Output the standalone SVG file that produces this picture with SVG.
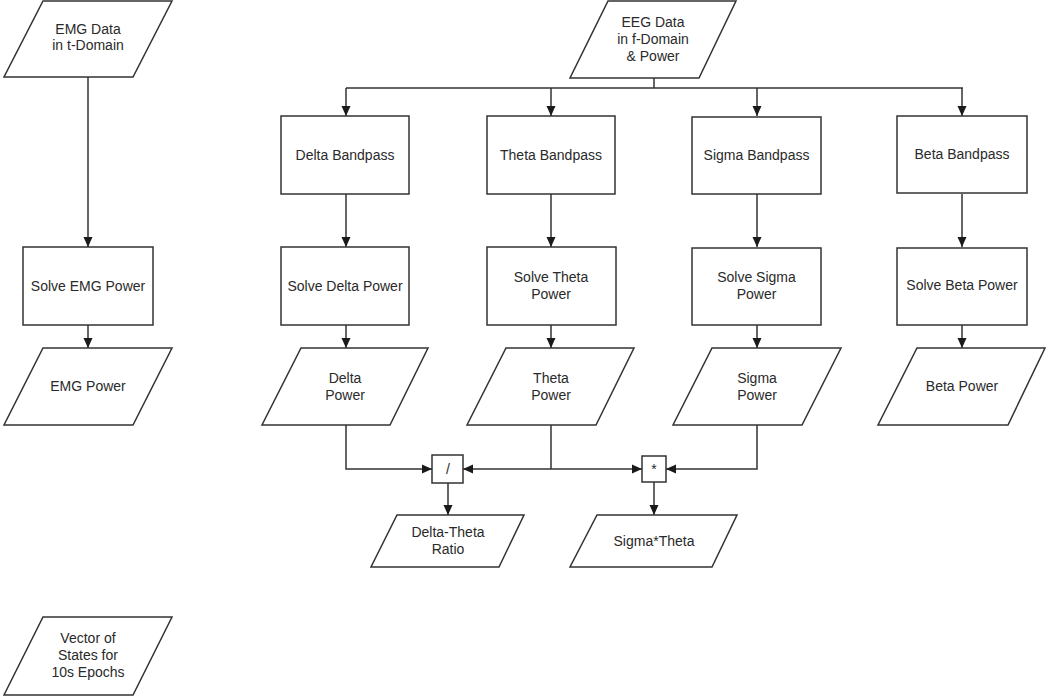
<svg xmlns="http://www.w3.org/2000/svg" width="1050" height="699" viewBox="0 0 1050 699">
<style>
.s{fill:#fff;stroke:#333;stroke-width:1.5}
.t{font-family:"Liberation Sans",Arial,sans-serif;font-size:14px;fill:#2a2a2a;text-anchor:middle}
.c{fill:none;stroke:#333;stroke-width:1.5;marker-end:url(#a)}
.n{fill:none;stroke:#333;stroke-width:1.5}
</style>
<defs>
<marker id="a" markerUnits="userSpaceOnUse" markerWidth="10" markerHeight="10" refX="10" refY="5" orient="auto">
<path d="M0,0.5 L10,5 L0,9.5 z" fill="#1a1a1a"/>
</marker>
</defs>
<rect width="1050" height="699" fill="#fff"/>
<g id="connectors">
<path class="c" d="M88,77 V247"/>
<path class="c" d="M88,325 V348"/>
<path class="n" d="M654,78 V88 M346,88 H963"/>
<path class="c" d="M346,88 V116"/>
<path class="c" d="M551,88 V116"/>
<path class="c" d="M757,88 V116"/>
<path class="c" d="M962,88 V116"/>
<path class="c" d="M346,194 V247"/>
<path class="c" d="M551,194 V247"/>
<path class="c" d="M757,194 V247"/>
<path class="c" d="M962,194 V247"/>
<path class="c" d="M346,325 V348"/>
<path class="c" d="M551,325 V348"/>
<path class="c" d="M757,325 V348"/>
<path class="c" d="M962,325 V348"/>
<path class="c" d="M346,425 V469 H432"/>
<path class="n" d="M551,425 V469"/>
<path class="c" d="M551,469 H463"/>
<path class="c" d="M551,469 H642"/>
<path class="c" d="M757,425 V469 H666"/>
<path class="c" d="M448,483 V515"/>
<path class="c" d="M654,482 V515"/>
</g>
<g id="emg-data"><polygon class="s" points="43,1 172,1 133,77 4,77"/><text class="t" x="88" y="34">EMG Data</text><text class="t" x="88" y="50">in t-Domain</text></g>
<g id="solve-emg"><rect class="s" x="23" y="247" width="130" height="78"/><text class="t" x="88" y="291">Solve EMG Power</text></g>
<g id="emg-power"><polygon class="s" points="43,348 172,348 133,425 4,425"/><text class="t" x="88" y="391">EMG Power</text></g>
<g id="vector-states"><polygon class="s" points="43,617 172,617 133,695 4,695"/><text class="t" x="88" y="643">Vector of</text><text class="t" x="88" y="660">States for</text><text class="t" x="88" y="677">10s Epochs</text></g>
<g id="eeg-data"><polygon class="s" points="608,1 736,1 699,78 570,78"/><text class="t" x="653" y="27">EEG Data</text><text class="t" x="653" y="44">in f-Domain</text><text class="t" x="653" y="61">&amp; Power</text></g>
<g id="delta-bp"><rect class="s" x="281" y="116" width="128" height="78"/><text class="t" x="345" y="160">Delta Bandpass</text></g>
<g id="theta-bp"><rect class="s" x="487" y="116" width="128" height="78"/><text class="t" x="551" y="160">Theta Bandpass</text></g>
<g id="sigma-bp"><rect class="s" x="692" y="117" width="129" height="77"/><text class="t" x="756.5" y="160">Sigma Bandpass</text></g>
<g id="beta-bp"><rect class="s" x="897" y="116" width="130" height="77"/><text class="t" x="962" y="159">Beta Bandpass</text></g>
<g id="solve-delta"><rect class="s" x="281" y="247" width="128" height="78"/><text class="t" x="345" y="291">Solve Delta Power</text></g>
<g id="solve-theta"><rect class="s" x="487" y="247" width="129" height="78"/><text class="t" x="551" y="282">Solve Theta</text><text class="t" x="551" y="299">Power</text></g>
<g id="solve-sigma"><rect class="s" x="692" y="248" width="129" height="77"/><text class="t" x="756.5" y="282">Solve Sigma</text><text class="t" x="756.5" y="299">Power</text></g>
<g id="solve-beta"><rect class="s" x="897" y="248" width="130" height="77"/><text class="t" x="962" y="290">Solve Beta Power</text></g>
<g id="delta-power"><polygon class="s" points="301,348 428,348 390,425 262,425"/><text class="t" x="345" y="383">Delta</text><text class="t" x="345" y="400">Power</text></g>
<g id="theta-power"><polygon class="s" points="506,348 634,348 596,425 467,425"/><text class="t" x="551" y="383">Theta</text><text class="t" x="551" y="400">Power</text></g>
<g id="sigma-power"><polygon class="s" points="712,348 841,348 802,425 673,425"/><text class="t" x="757" y="383">Sigma</text><text class="t" x="757" y="400">Power</text></g>
<g id="beta-power"><polygon class="s" points="917,348 1045,348 1008,425 878,425"/><text class="t" x="962" y="391">Beta Power</text></g>
<g id="divide"><rect class="s" x="432" y="455" width="31" height="28"/><text class="t" x="448" y="474">/</text></g>
<g id="multiply"><rect class="s" x="642" y="456" width="24" height="26"/><text class="t" x="654" y="474">*</text></g>
<g id="dt-ratio"><polygon class="s" points="397,515 524,515 499,567 371,567"/><text class="t" x="448" y="537">Delta-Theta</text><text class="t" x="448" y="554">Ratio</text></g>
<g id="sigma-theta"><polygon class="s" points="597,515 737,515 712,567 570,567"/><text class="t" x="654" y="546">Sigma*Theta</text></g>
</svg>
